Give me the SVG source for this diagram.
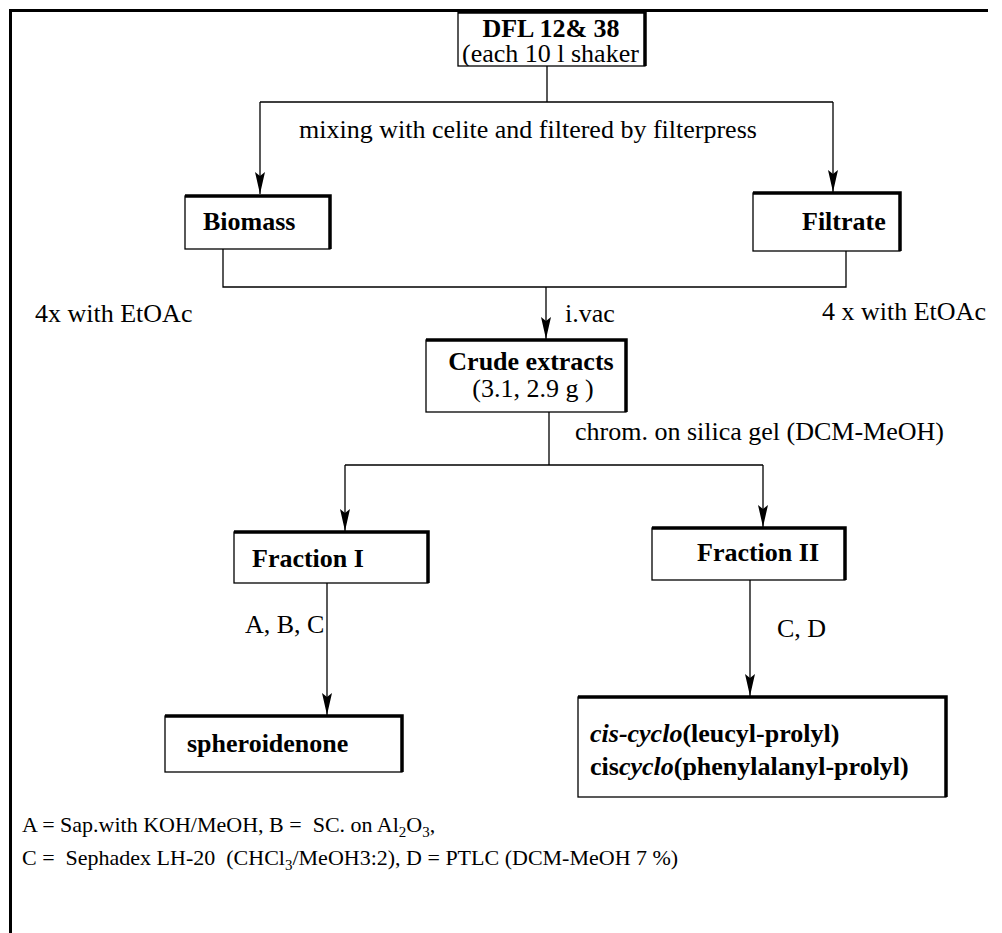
<svg xmlns="http://www.w3.org/2000/svg" width="1002" height="933" viewBox="0 0 1002 933">
<defs>
<marker id="arr" markerWidth="22" markerHeight="10" refX="22" refY="5" orient="auto" markerUnits="userSpaceOnUse" viewBox="0 0 22 10">
<path d="M0 0 L22 5 L0 10 L4 5 Z" fill="#000"/>
</marker>
<clipPath id="dflclip"><rect x="458" y="12" width="187" height="54"/></clipPath>
</defs>
<style>
.box{fill:#fff;stroke:#000;stroke-width:1.3}
.thick{fill:none;stroke:#000;stroke-width:3.5}
.ln{fill:none;stroke:#000;stroke-width:1.3}
.b{font-family:"Liberation Serif","Times New Roman",serif;font-weight:bold;font-size:26px;fill:#000}
.r{font-family:"Liberation Serif","Times New Roman",serif;font-size:26px;fill:#000}
.s{font-family:"Liberation Serif","Times New Roman",serif;font-size:22px;fill:#000;white-space:pre}
</style>
<rect width="1002" height="933" fill="#fff"/>
<path d="M10.5 933 V10.5 H988" fill="none" stroke="#000" stroke-width="3"/>

<g id="connectors">
<path class="ln" d="M547 66 V102 M260 102 H833"/>
<path class="ln" d="M260 102 V194" marker-end="url(#arr)"/>
<path class="ln" d="M833 102 V192" marker-end="url(#arr)"/>
<path class="ln" d="M223 249 V287 H846 V251"/>
<path class="ln" d="M546 287 V339" marker-end="url(#arr)"/>
<path class="ln" d="M549 412 V465 M345 465 H763"/>
<path class="ln" d="M345 465 V531" marker-end="url(#arr)"/>
<path class="ln" d="M763 465 V527" marker-end="url(#arr)"/>
<path class="ln" d="M327 583 V715" marker-end="url(#arr)"/>
<path class="ln" d="M750 580 V696" marker-end="url(#arr)"/>
</g>

<g id="labels">
<text class="r" x="528" y="138" text-anchor="middle">mixing with celite and filtered by filterpress</text>
<text class="r" x="35" y="322">4x with EtOAc</text>
<text class="r" x="822" y="320">4 x with EtOAc</text>
<text class="r" x="565" y="322">i.vac</text>
<text class="r" x="575" y="440" font-size="27">chrom. on silica gel (DCM-MeOH)</text>
<text class="r" x="245" y="633">A, B, C</text>
<text class="r" x="777" y="637">C, D</text>
</g>

<g id="n-dfl">
<rect class="box" x="458" y="12" width="187" height="54"/>
<path class="thick" d="M458 12 H645 V66"/>
<text class="b" x="551" y="37" text-anchor="middle">DFL 12&amp; 38</text>
<text class="r" x="462" y="62" clip-path="url(#dflclip)">(each 10 l shaker</text>
</g>

<g id="n-biomass">
<rect class="box" x="185" y="196" width="145" height="53"/>
<path class="thick" d="M185 196 H330 V249"/>
<text class="b" x="203" y="230">Biomass</text>
</g>

<g id="n-filtrate">
<rect class="box" x="753" y="193" width="147" height="58"/>
<path class="thick" d="M753 193 H900 V251"/>
<text class="b" x="802" y="230">Filtrate</text>
</g>

<g id="n-crude">
<rect class="box" x="426" y="340" width="200" height="72"/>
<path class="thick" d="M426 340 H626 V412"/>
<text class="b" x="531" y="370" text-anchor="middle">Crude extracts</text>
<text class="r" x="533" y="397" text-anchor="middle">(3.1, 2.9 g )</text>
</g>

<g id="n-frac1">
<rect class="box" x="234" y="532" width="194" height="51"/>
<path class="thick" d="M234 532 H428 V583"/>
<text class="b" x="252" y="567">Fraction I</text>
</g>

<g id="n-frac2">
<rect class="box" x="652" y="528" width="193" height="52"/>
<path class="thick" d="M652 528 H845 V580"/>
<text class="b" x="697" y="561">Fraction II</text>
</g>

<g id="n-spher">
<rect class="box" x="165" y="716" width="237" height="56"/>
<path class="thick" d="M165 716 H402 V772"/>
<text class="b" x="187" y="752">spheroidenone</text>
</g>

<g id="n-cis">
<rect class="box" x="578" y="697" width="368" height="100"/>
<path class="thick" d="M578 697 H946 V797"/>
<text class="b" x="590" y="742"><tspan font-style="italic">cis-cyclo</tspan>(leucyl-prolyl)</text>
<text class="b" x="590" y="775">cis<tspan font-style="italic">cyclo</tspan>(phenylalanyl-prolyl)</text>
</g>

<g id="legend">
<text class="s" x="22" y="832">A = Sap.with KOH/MeOH, B =  SC. on Al<tspan font-size="15" dy="5">2</tspan><tspan dy="-5">O</tspan><tspan font-size="15" dy="5">3</tspan><tspan dy="-5">,</tspan></text>
<text class="s" x="22" y="865">C =  Sephadex LH-20  (CHCl<tspan font-size="15" dy="5">3</tspan><tspan dy="-5">/MeOH3:2), D = PTLC (DCM-MeOH 7 %)</tspan></text>
</g>
</svg>
